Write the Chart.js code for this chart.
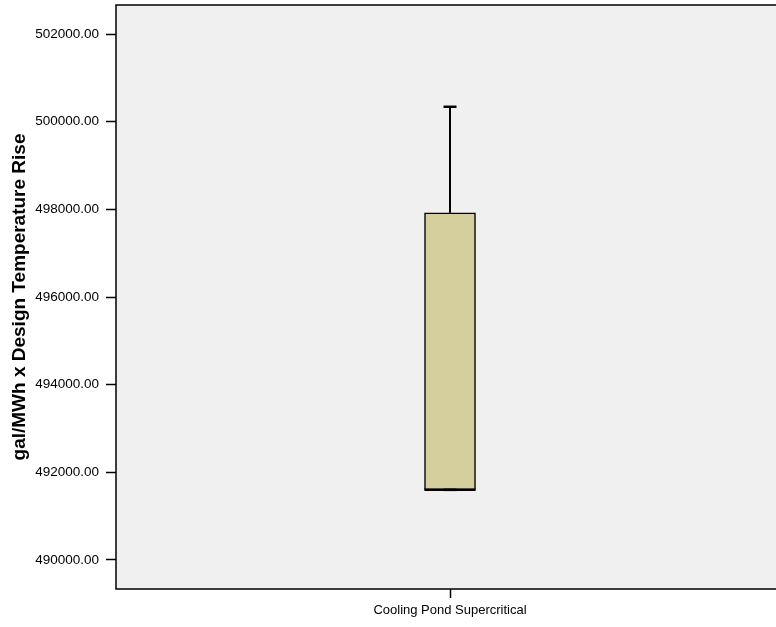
<!DOCTYPE html>
<html lang="en">
<head>
    <meta charset="UTF-8">
    <title>Boxplot</title>
    <style>
        html, body { margin: 0; padding: 0; background: #fff; }
        #wrap { width: 776px; height: 627px; position: relative; }
    </style>
</head>
<body>
<div id="wrap"><canvas id="myChart" width="776" height="627"></canvas></div>

<script src="https://cdn.jsdelivr.net/npm/chart.js"></script>
<script>
    // data
    var categories = ['Cooling Pond Supercritical'];
    var minValues = [491600];
    var q1Values = [491600];
    var medianValues = [491600];
    var q3Values = [497920];
    var maxValues = [500340];
    var yTicks = [490000, 492000, 494000, 496000, 498000, 500000, 502000];

    var FONT = "'Liberation Sans', Arial, sans-serif";

    // grey plot area and frame (left, top, bottom)
    var framePlugin = {
        id: 'frame',
        beforeDraw: function (chart) {
            var a = chart.chartArea, ctx = chart.ctx;
            ctx.save();
            ctx.fillStyle = '#f0f0f0';
            ctx.fillRect(a.left, a.top, a.right - a.left, a.bottom - a.top);
            ctx.restore();
        },
        beforeDatasetsDraw: function (chart) {
            var a = chart.chartArea, ctx = chart.ctx;
            ctx.save();
            ctx.strokeStyle = '#000';
            ctx.lineWidth = 1.5;
            ctx.beginPath();
            ctx.moveTo(a.right + 2, a.top);
            ctx.lineTo(a.left, a.top);
            ctx.lineTo(a.left, a.bottom);
            ctx.lineTo(a.right + 2, a.bottom);
            ctx.stroke();
            ctx.restore();
        }
    };

    var boxData = categories.map(function (c, i) { return { x: i, y: [q1Values[i], q3Values[i]] }; });
    var whiskerData = [];
    categories.forEach(function (c, i) {
        whiskerData.push({ x: i, y: q3Values[i] });
        whiskerData.push({ x: i, y: maxValues[i] });
    });
    var capData = [];
    categories.forEach(function (c, i) {
        capData.push({ x: i, y: maxValues[i] });
        capData.push({ x: i, y: minValues[i] });
    });
    var medianData = categories.map(function (c, i) { return { x: i, y: medianValues[i] }; });

    var ctx = document.getElementById('myChart').getContext('2d');
    var myChart = new Chart(ctx, {
        data: {
            datasets: [
                {
                    type: 'bar',
                    data: boxData,
                    backgroundColor: '#d4cf9c',
                    borderColor: '#000',
                    borderWidth: 1.5,
                    borderSkipped: false,
                    barThickness: 51,
                    order: 3
                },
                {
                    type: 'line',
                    data: whiskerData,
                    borderColor: '#000',
                    borderWidth: 2,
                    pointRadius: 0,
                    order: 2
                },
                {
                    type: 'scatter',
                    data: capData,
                    pointStyle: 'line',
                    pointRadius: 6.5,
                    pointBorderColor: '#000',
                    pointBorderWidth: 2.5,
                    order: 1
                },
                {
                    type: 'scatter',
                    data: medianData,
                    pointStyle: 'line',
                    pointRadius: 25.5,
                    pointBorderColor: '#000',
                    pointBorderWidth: 2.5,
                    order: 0
                }
            ]
        },
        options: {
            responsive: false,
            animation: false,
            events: [],
            layout: { autoPadding: false, padding: { top: 5, right: 0, left: 0, bottom: 0 } },
            plugins: {
                legend: { display: false },
                tooltip: { enabled: false }
            },
            scales: {
                x: {
                    type: 'linear',
                    min: -1,
                    max: 0.976,
                    offset: false,
                    afterBuildTicks: function (axis) {
                        axis.ticks = categories.map(function (c, i) { return { value: i }; });
                    },
                    afterFit: function (axis) {
                        axis.height = 38;
                        axis.paddingLeft = 0;
                        axis.paddingRight = 0;
                    },
                    ticks: {
                        autoSkip: false,
                        maxRotation: 0,
                        padding: 5,
                        color: '#000',
                        font: { family: FONT, size: 13 },
                        callback: function (v) { return categories[v]; }
                    },
                    grid: {
                        offset: false,
                        drawOnChartArea: false,
                        tickLength: 9,
                        tickWidth: 1.5,
                        tickColor: '#000'
                    },
                    border: { display: false }
                },
                y: {
                    type: 'linear',
                    min: 489338,
                    max: 502662,
                    afterBuildTicks: function (axis) {
                        axis.ticks = yTicks.map(function (v) { return { value: v }; });
                    },
                    afterFit: function (axis) {
                        axis.width = 116;
                        axis.paddingTop = 0;
                        axis.paddingBottom = 0;
                    },
                    ticks: {
                        padding: 7,
                        color: '#000',
                        font: { family: FONT, size: 13.5 },
                        callback: function (v) { return v.toFixed(2); }
                    },
                    grid: {
                        drawOnChartArea: false,
                        tickLength: 10,
                        tickWidth: 1.5,
                        tickColor: '#000'
                    },
                    border: { display: false },
                    title: {
                        display: true,
                        text: 'gal/MWh x Design Temperature Rise',
                        color: '#000',
                        font: { family: FONT, size: 19, weight: 'bold' },
                        padding: { top: 8, bottom: 0 }
                    }
                }
            }
        },
        plugins: [framePlugin]
    });
</script>
</body>
</html>
